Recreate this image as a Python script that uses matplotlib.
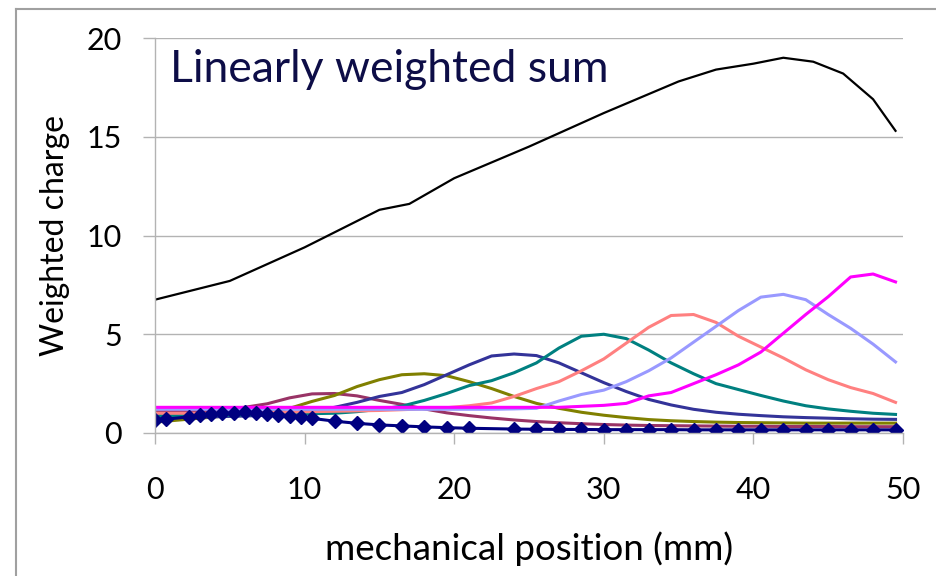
import matplotlib
matplotlib.use("Agg")
import matplotlib.pyplot as plt
from matplotlib.lines import Line2D

plt.rcParams["font.family"] = ["Lato", "DejaVu Sans"]

# shared sampling grid for the smooth channel curves (mm)
pos = [0, 1.5, 3, 4.5, 6, 7.5, 9, 10.5, 12, 13.5, 15, 16.5, 18, 19.5, 21, 22.5,
       24, 25.5, 27, 28.5, 30, 31.5, 33, 34.5, 36, 37.5, 39, 40.5, 42, 43.5,
       45, 46.5, 48, 49.5]

ch2 = [1.10, 1.10, 1.12, 1.18, 1.30, 1.48, 1.78, 1.98, 2.00, 1.88, 1.65, 1.45,
       1.22, 1.02, 0.88, 0.76, 0.66, 0.58, 0.52, 0.47, 0.43, 0.40, 0.38, 0.37,
       0.36, 0.35, 0.34, 0.34, 0.33, 0.33, 0.33, 0.32, 0.32, 0.32]
ch3 = [0.55, 0.65, 0.75, 0.85, 0.95, 1.05, 1.25, 1.60, 1.90, 2.35, 2.70, 2.95,
       3.00, 2.90, 2.60, 2.25, 1.85, 1.50, 1.25, 1.05, 0.90, 0.78, 0.68, 0.62,
       0.58, 0.55, 0.53, 0.52, 0.51, 0.50, 0.50, 0.50, 0.50, 0.50]
ch4 = [0.75, 0.78, 0.80, 0.83, 0.86, 0.90, 1.00, 1.12, 1.30, 1.55, 1.85, 2.05,
       2.45, 2.95, 3.45, 3.90, 4.00, 3.92, 3.55, 3.05, 2.55, 2.10, 1.70, 1.42,
       1.20, 1.05, 0.95, 0.88, 0.82, 0.78, 0.75, 0.72, 0.70, 0.69]
ch5 = [0.88, 0.88, 0.88, 0.90, 0.92, 0.94, 0.96, 0.98, 1.00, 1.08, 1.20, 1.36,
       1.65, 2.00, 2.40, 2.65, 3.05, 3.55, 4.30, 4.90, 5.00, 4.78, 4.20, 3.55,
       3.00, 2.50, 2.20, 1.90, 1.62, 1.38, 1.22, 1.10, 1.00, 0.94]
ch6 = [1.00, 1.00, 1.00, 1.00, 1.02, 1.04, 1.06, 1.08, 1.10, 1.12, 1.14, 1.18,
       1.22, 1.28, 1.38, 1.52, 1.85, 2.25, 2.60, 3.15, 3.75, 4.55, 5.35, 5.95,
       6.00, 5.60, 4.90, 4.35, 3.80, 3.20, 2.70, 2.30, 2.00, 1.55]
ch7 = [1.20, 1.20, 1.20, 1.20, 1.20, 1.20, 1.20, 1.20, 1.20, 1.20, 1.20, 1.20,
       1.20, 1.20, 1.20, 1.20, 1.22, 1.25, 1.62, 1.95, 2.17, 2.60, 3.15, 3.80,
       4.60, 5.40, 6.20, 6.88, 7.02, 6.75, 6.00, 5.30, 4.50, 3.60]
ch8 = [1.30, 1.30, 1.30, 1.30, 1.30, 1.30, 1.30, 1.30, 1.30, 1.30, 1.30, 1.30,
       1.30, 1.30, 1.30, 1.30, 1.30, 1.30, 1.30, 1.35, 1.40, 1.50, 1.88, 2.05,
       2.50, 2.95, 3.45, 4.10, 5.05, 6.00, 6.90, 7.90, 8.05, 7.65]

# first channel, measured points shown with markers
ch1_pos = [0, 0.75, 2.25, 3.0, 3.75, 4.5, 5.25, 6.0, 6.75, 7.5, 8.25, 9.0, 9.75,
           10.5, 12, 13.5, 15, 16.5, 18, 19.5, 21, 24, 25.5, 27, 28.5, 30, 31.5,
           33, 34.5, 36, 37.5, 39, 40.5, 42, 43.5, 45, 46.5, 48, 49.5]
ch1 = [0.66, 0.70, 0.82, 0.90, 0.95, 1.00, 1.03, 1.04, 1.02, 0.97, 0.92, 0.86,
       0.80, 0.74, 0.60, 0.49, 0.41, 0.36, 0.31, 0.27, 0.24, 0.20, 0.19, 0.18,
       0.18, 0.17, 0.17, 0.17, 0.17, 0.16, 0.16, 0.16, 0.16, 0.16, 0.16, 0.16,
       0.16, 0.16, 0.16]

# linearly weighted sum of all channels
sum_pos = [0, 5, 10, 15, 17, 20, 25, 30, 35, 37.5, 40, 42, 44, 46, 48, 49.5]
weighted_sum = [6.75, 7.7, 9.4, 11.3, 11.6, 12.9, 14.5, 16.2, 17.8, 18.4, 18.7,
                19.0, 18.8, 18.2, 16.9, 15.3]

channels = [ch2, ch3, ch4, ch5, ch6, ch7, ch8]
colors = ["#993366", "#808000", "#333399", "#008080", "#FF8080", "#9999FF", "#FF00FF"]

fig = plt.figure(figsize=(9.36, 5.76), dpi=100)
ax = fig.add_axes([155 / 936, 1 - 433 / 576, 748 / 936, 395 / 576])

for vals, col in zip(channels, colors):
    ax.plot(pos, vals, color=col, lw=2.2, solid_joinstyle="round")
ax.plot(ch1_pos, ch1, color="#000080", lw=2.2, marker="D", markersize=7)
ax.plot(sum_pos, weighted_sum, color="black", lw=1.6, solid_joinstyle="round")

ax.set_xlim(0, 50)
ax.set_ylim(0, 20)
ax.set_xticks(range(0, 51, 10))
ax.set_yticks(range(0, 21, 5))
ax.grid(axis="y", color="#b3b3b3", lw=1)
ax.set_axisbelow(True)
for side in ["top", "right"]:
    ax.spines[side].set_visible(False)
for side in ["left", "bottom"]:
    ax.spines[side].set_color("#b3b3b3")
    ax.spines[side].set_linewidth(1)
ax.tick_params(axis="y", length=8.6, width=1, color="#b3b3b3", pad=15, labelsize=22)
ax.tick_params(axis="x", length=8, width=1, color="#b3b3b3", pad=23, labelsize=22)

ax.set_xlabel("mechanical position (mm)", fontsize=26.5, labelpad=20)
ax.set_ylabel("Weighted charge", fontsize=23, labelpad=12)
ax.text(1.0, 18.4, "Linearly weighted sum", fontsize=32, color="#0d0d47",
        va="center", ha="left")

# chart frame
fig.add_artist(Line2D([15.7 / 936, 15.7 / 936], [0, 1 - 9 / 576],
                      transform=fig.transFigure, color="#a0a0a0", lw=1.5))
fig.add_artist(Line2D([15.7 / 936, 1], [1 - 9 / 576, 1 - 9 / 576],
                      transform=fig.transFigure, color="#a0a0a0", lw=1.5))

fig.savefig("out.png", dpi=100)
